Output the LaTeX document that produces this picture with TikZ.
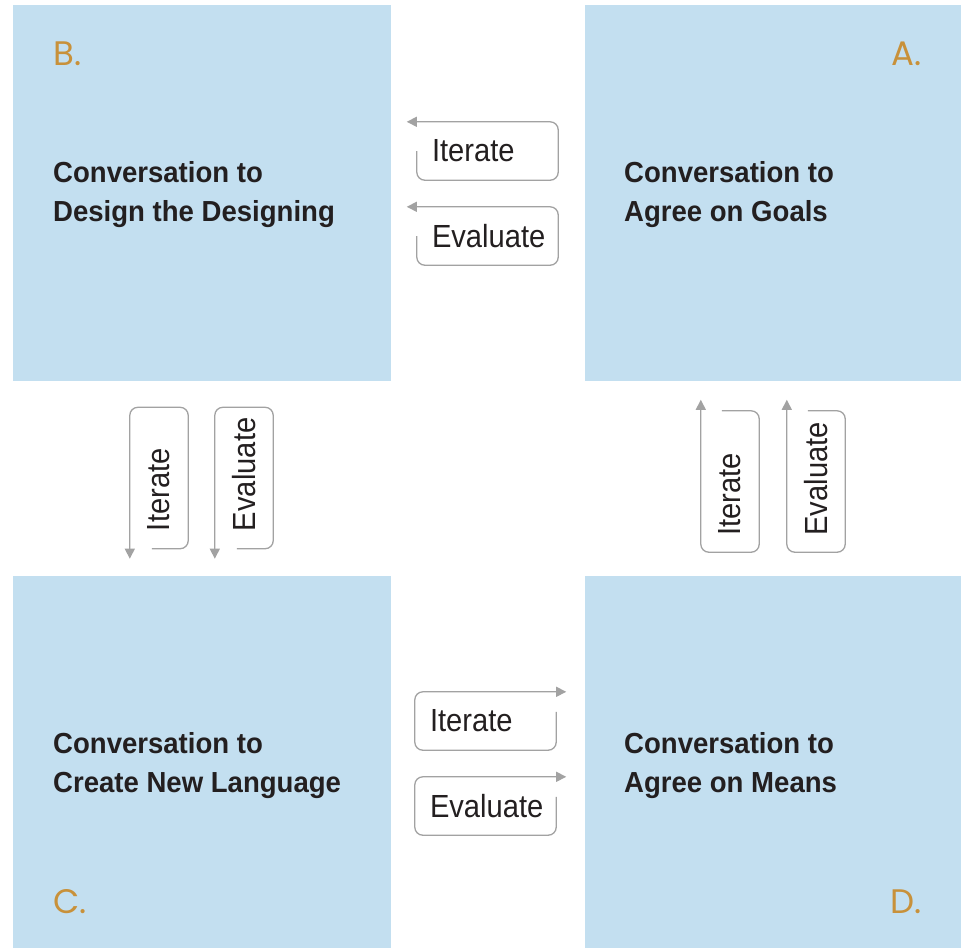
\documentclass[tikz,border=0pt]{standalone}
\usepackage{fontspec}
\setmainfont{Liberation Sans}
\newfontfamily\titlefont[FakeStretch=0.95]{Liberation Sans}
\newfontfamily\tagfont[FakeStretch=0.91]{Liberation Sans}
\newfontfamily\letterfont{Poppins}
\usetikzlibrary{arrows.meta,positioning,calc}
\definecolor{panelblue}{HTML}{C3DFF0}
\definecolor{lettergold}{HTML}{C8913A}
\definecolor{tagline}{HTML}{A2A2A2}
\definecolor{ink}{HTML}{231F20}

\begin{document}
\begin{tikzpicture}[
  x=1pt, y=-1pt, >={Triangle[length=10pt,width=10pt]},
  panel/.style={fill=panelblue, inner sep=0pt, anchor=north west},
  heading/.style={anchor=base west, inner sep=0pt, align=left, text=ink,
                  font=\titlefont\bfseries\fontsize{29}{38.5}\selectfont},
  tagletter/.style={inner sep=0pt, text=lettergold, font=\letterfont\fontsize{34}{34}\selectfont},
  htag/.style={minimum width=141pt, minimum height=58pt, inner xsep=15pt, inner ysep=0pt,
               text width=111pt, align=left, text=ink, font=\tagfont\fontsize{32}{32}\selectfont},
  vtag/.style={minimum width=58pt, minimum height=141pt, inner sep=0pt, text=ink,
               font=\tagfont\fontsize{32}{32}\selectfont},
  cycleline/.style={->, draw=tagline, line width=1.3pt, rounded corners=8pt}]
  \useasboundingbox (0,0) rectangle (961,948);
  % the four conversations
  \node[panel, minimum width=377.5pt, minimum height=376pt] (B) at (13,5) {};
  \node[panel, minimum width=376pt, minimum height=376pt] (A) at (585,5) {};
  \node[panel, minimum width=377.5pt, minimum height=372pt] (C) at (13,576) {};
  \node[panel, minimum width=376pt, minimum height=372pt] (D) at (585,576) {};
  \node[tagletter, anchor=base west] (Bmark) at (53,65) {B.};
  \node[tagletter, anchor=base east] (Amark) at (922,65) {A.};
  \node[tagletter, anchor=base west] (Cmark) at (53,913) {C.};
  \node[tagletter, anchor=base east] (Dmark) at (922,913) {D.};
  % base is the last line's baseline
  \node[heading] (Btitle) at (53,221) {Conversation to\\Design the Designing};
  \node[heading] (Atitle) at (624,221) {Conversation to\\Agree on Goals};
  \node[heading] (Ctitle) at (53,792) {Conversation to\\Create New Language};
  \node[heading] (Dtitle) at (624,792) {Conversation to\\Agree on Means};
  % iterate / evaluate tags
  \node[htag] (ABiter) at (487.5,151) {Iterate};
  \node[htag] (ABeval) at (487.5,236) {Evaluate};
  \node[vtag] (BCiter) at (159,478) {\rotatebox{90}{\makebox[106pt][l]{Iterate}}};
  \node[vtag] (BCeval) at (244,478) {\rotatebox{90}{\makebox[106pt][l]{Evaluate}}};
  \node[htag] (CDiter) at (485.5,721) {Iterate};
  \node[htag] (CDeval) at (485.5,806) {Evaluate};
  \node[vtag] (DAiter) at (730,481.5) {\rotatebox{90}{\makebox[108pt][l]{Iterate}}};
  \node[vtag] (DAeval) at (816,481.5) {\rotatebox{90}{\makebox[108pt][l]{Evaluate}}};
  \foreach \t in {ABiter,ABeval}
    \draw[cycleline] (\t.west) -- (\t.south west) -- (\t.south east) -- (\t.north east) -- (\t.north west) -- ++(-10,0);
  \foreach \t in {BCiter,BCeval}
    \draw[cycleline] ($(\t.south west)+(22,0)$) -- (\t.south east) -- (\t.north east) -- (\t.north west) -- (\t.south west) -- ++(0,10);
  \foreach \t in {CDiter,CDeval}
    \draw[cycleline] ($(\t.north east)+(0,20)$) -- (\t.south east) -- (\t.south west) -- (\t.north west) -- (\t.north east) -- ++(10,0);
  \foreach \t in {DAiter,DAeval}
    \draw[cycleline] ($(\t.north west)+(21,0)$) -- (\t.north east) -- (\t.south east) -- (\t.south west) -- (\t.north west) -- ++(0,-11);
\end{tikzpicture}
\end{document}
